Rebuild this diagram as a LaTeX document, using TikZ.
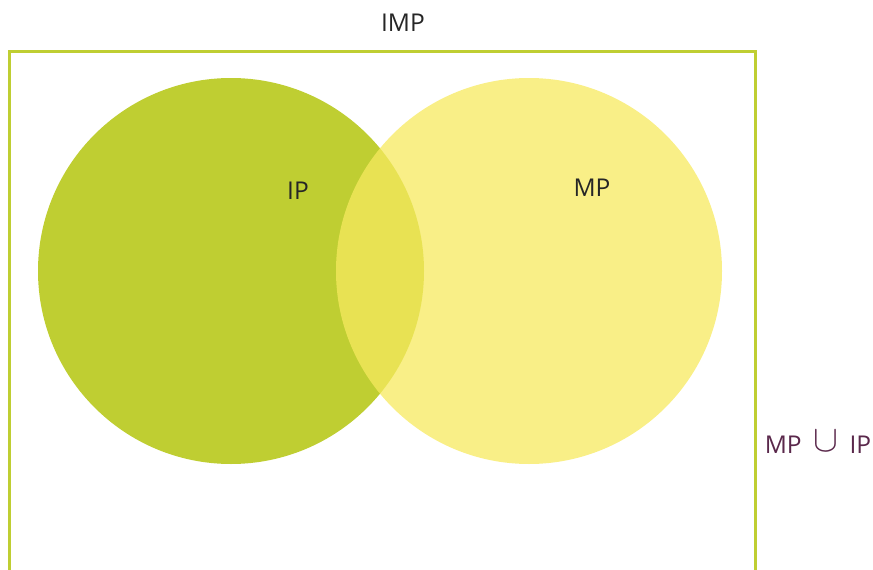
\documentclass[tikz,border=0pt]{standalone}
\usepackage{fontspec}
\usepackage{graphicx}
\setmainfont{Open Sans}
\definecolor{lgreen}{RGB}{191,206,50}
\definecolor{lyellow}{RGB}{247,234,95}
\definecolor{txt}{RGB}{38,38,38}
\definecolor{purp}{RGB}{90,40,75}
\begin{document}
\begin{tikzpicture}[x=1pt,y=-1pt,
  setcircle/.style={circle,inner sep=0pt,minimum size=386pt},
  lbl/.style={font=\fontsize{24.5}{28}\selectfont,text=txt,inner sep=0pt}]
\useasboundingbox (0,0) rectangle (873,570);
\draw[lgreen,line width=3pt] (9.5,580) -- (9.5,51.5) -- (755,51.5) -- (755,580);
\node[setcircle,fill=lgreen] (ip) at (231,271) {};
\node[setcircle,fill=lyellow,fill opacity=0.75] (mp) at (529,271) {};
\node[lbl] (imp) at (403,23) {IMP};
\node[lbl] (iplbl) at (298,191) {IP};
\node[lbl] (mplbl) at (592,188) {MP};
\node[lbl,text=purp,anchor=base] (union) at (818,453) {MP\hspace{12pt}\raisebox{2pt}{\scalebox{1.5}{$\cup$}}\hspace{11pt}IP};
\end{tikzpicture}
\end{document}
